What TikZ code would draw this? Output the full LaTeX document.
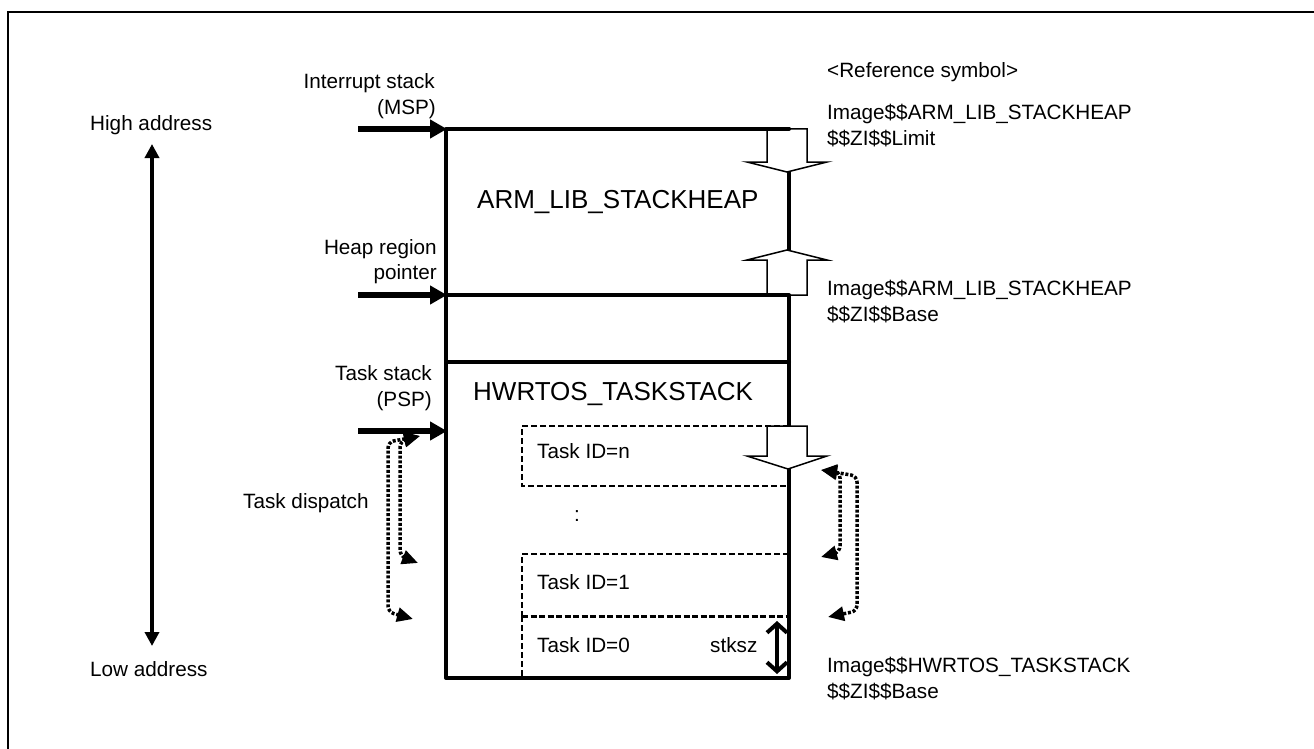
\documentclass[tikz,border=0pt]{standalone}
\usepackage{fontspec}
\setmainfont{Liberation Sans}
\usetikzlibrary{arrows.meta}
\begin{document}
\begin{tikzpicture}[x=1pt,y=-1pt,
 lbl/.style={inner sep=0pt, font=\fontsize{20.7}{24}\selectfont},
 big/.style={inner sep=0pt, font=\fontsize{26}{30}\selectfont},
 memline/.style={line width=4pt, line cap=round, line join=round},
 ptr/.style={line width=5.5pt, -{Triangle[length=17pt,width=18pt]}},
 addr/.style={line width=3.5pt, {Triangle[length=14pt,width=14pt]}-{Triangle[length=14pt,width=14pt]}},
 disp/.style={line width=3.5pt, dash pattern=on 3pt off 1.8pt, rounded corners=6pt, {Triangle[length=16pt,width=14pt]}-{Triangle[length=16pt,width=14pt]}},
 tdash/.style={line width=2pt, dash pattern=on 6pt off 3pt},
 tdashb/.style={line width=3pt, dash pattern=on 6pt off 2.5pt},
 blk/.style={line width=1.5pt, fill=white, line join=miter},
 sz/.style={line width=4pt, {Straight Barb[length=9pt,width=20pt]}-{Straight Barb[length=9pt,width=20pt]}},
]
\useasboundingbox (0,0) rectangle (1314,749);
\clip (0,0) rectangle (1314,749);
\fill[white] (0,0) rectangle (1314,749);
\draw[line width=2.5pt] (8,12) rectangle (1340,790);

% memory block
\coordinate (mNW) at (446,129);
\coordinate (mSE) at (789,678);
\draw[memline] (mNW) rectangle (mSE);
\coordinate (hpL) at (446,295); \coordinate (hpR) at (789,295);
\coordinate (tsL) at (446,362); \coordinate (tsR) at (789,362);
\draw[memline] (hpL) -- (hpR);
\draw[memline] (tsL) -- (tsR);

% task regions
\draw[tdash] (789,426) -- (522,426) -- (522,486) -- (789,486);
\draw[tdash] (789,554) -- (522,554) -- (522,616);
\draw[tdash] (522,616) -- (522,678);
\draw[tdashb] (522,616) -- (789,616);

% block arrows
\draw[blk] (767,129) -- (767,162) -- (747,162) -- (787,172) -- (827,162) -- (807,162) -- (807,129) -- cycle;
\draw[blk] (767,295) -- (767,260) -- (747,260) -- (787,250) -- (827,260) -- (807,260) -- (807,295) -- cycle;
\draw[blk] (767,426) -- (767,456) -- (747,456) -- (788,469) -- (827,456) -- (807,456) -- (807,426) -- cycle;
\draw[memline] (767,129) -- (789,129);
\draw[memline] (767,295) -- (789,295);

% texts inside
\node[big, anchor=base west] (arm) at (477,208) {ARM\_LIB\_STACKHEAP};
\node[big, anchor=base west] (hw) at (473,400) {HWRTOS\_TASKSTACK};
\node[lbl, anchor=base west] (tn) at (537,458) {Task ID=n};
\node[lbl, anchor=base west] (dots) at (574,521) {:};
\node[lbl, anchor=base west] (t1) at (537,589) {Task ID=1};
\node[lbl, anchor=base west] (t0) at (537,652) {Task ID=0};
\node[lbl, anchor=base west] (sk) at (710,652) {stksz};
\coordinate (szT) at (777,621);
\coordinate (szB) at (777,674);
\draw[sz] (szT) -- (szB);

% address arrow
\node[lbl, anchor=base west] (hi) at (90,131) {High address};
\node[lbl, anchor=base west] (lo) at (90,676) {Low address};
\coordinate (aT) at (152,144);
\coordinate (aB) at (152,646);
\draw[addr] (aT) -- (aB);

% pointer labels and arrows
\node[lbl, anchor=base east] (int1) at (435,89) {Interrupt stack};
\node[lbl, anchor=base east] (int2) at (436,115) {(MSP)};
\node[lbl, anchor=base east] (hp1) at (437,254) {Heap region};
\node[lbl, anchor=base east] (hp2) at (437,279) {pointer};
\node[lbl, anchor=base east] (ts1) at (432,380) {Task stack};
\node[lbl, anchor=base east] (ts2) at (432,406) {(PSP)};
\coordinate (p1s) at (358,129); \coordinate (p1e) at (447,129);
\coordinate (p2s) at (358,295); \coordinate (p2e) at (447,295);
\coordinate (p3s) at (358,431); \coordinate (p3e) at (447,431);
\draw[ptr] (p1s) -- (p1e);
\draw[ptr] (p2s) -- (p2e);
\draw[ptr] (p3s) -- (p3e);

% task dispatch left
\node[lbl, anchor=base west] (td) at (243,508) {Task dispatch};
\coordinate (L0) at (420,436);
\coordinate (L1) at (418,563);
\coordinate (L2) at (413,619);
\draw[disp] (L0) -- (400,441) -- (400,556) -- (L1);
\draw[disp] (L0) -- (388,442) -- (388,612) -- (L2);

% task dispatch right
\coordinate (R0) at (821,470);
\coordinate (R1) at (821,557);
\coordinate (R2) at (828,617);
\draw[disp] (R0) -- (840,472) -- (840,552) -- (R1);
\draw[disp] (R0) -- (857,476) -- (857,611) -- (R2);

% reference symbols
\node[lbl, anchor=base west] (rs) at (827,78) {<Reference symbol>};
\node[lbl, anchor=base west] (lim1) at (827,120) {Image\$\$ARM\_LIB\_STACKHEAP};
\node[lbl, anchor=base west] (lim2) at (827,146) {\$\$ZI\$\$Limit};
\node[lbl, anchor=base west] (bas1) at (827,295) {Image\$\$ARM\_LIB\_STACKHEAP};
\node[lbl, anchor=base west] (bas2) at (827,321) {\$\$ZI\$\$Base};
\node[lbl, anchor=base west] (hw1) at (827,672) {Image\$\$HWRTOS\_TASKSTACK};
\node[lbl, anchor=base west] (hw2) at (827,698) {\$\$ZI\$\$Base};
\end{tikzpicture}
\end{document}
